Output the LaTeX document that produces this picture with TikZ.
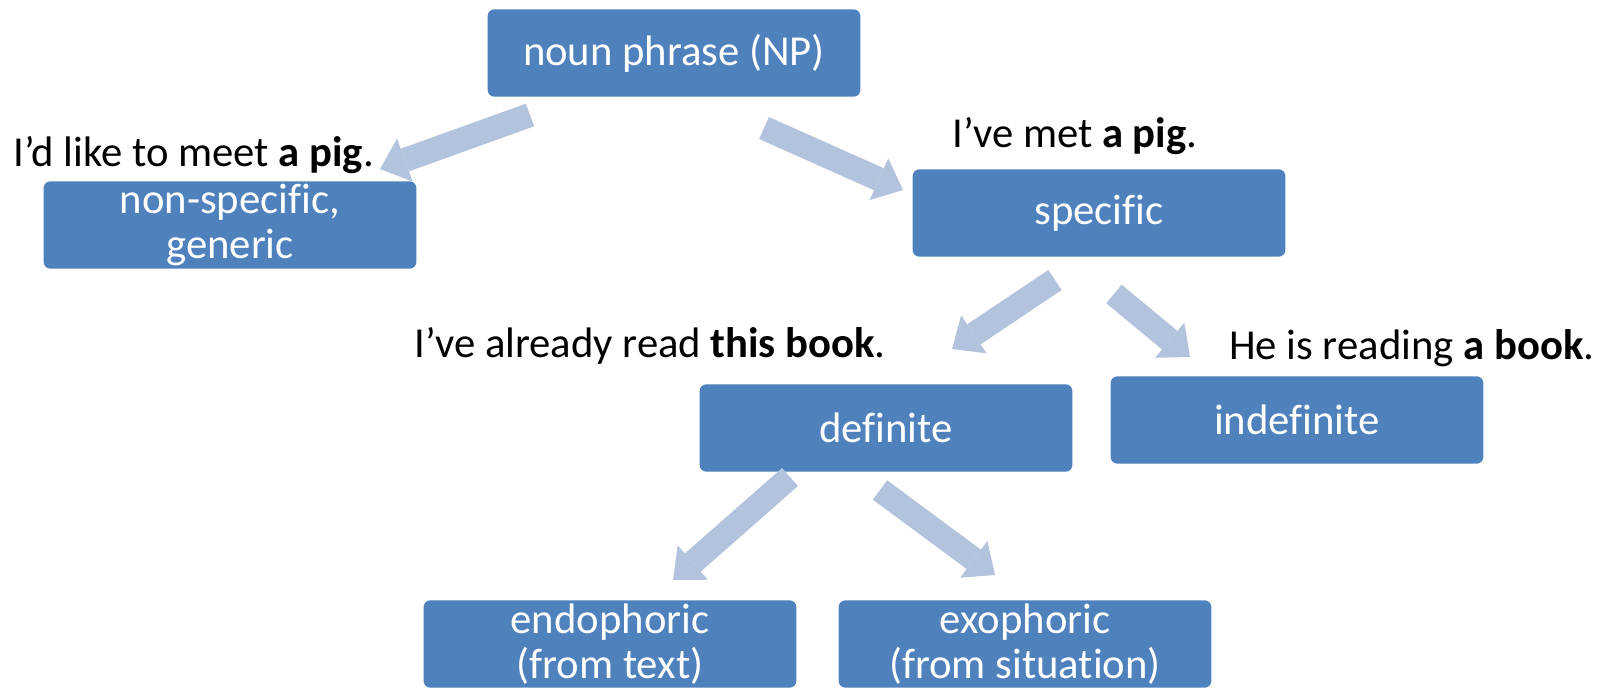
\documentclass[tikz,border=0pt]{standalone}
\usepackage{fontspec}
\setmainfont{Carlito}[Ligatures=NoCommon]
\usetikzlibrary{arrows.meta}

\definecolor{boxblue}{HTML}{4F81BD}
\definecolor{arrowblue}{HTML}{B3C2DD}

\begin{document}
\begin{tikzpicture}[x=0.02cm, y=-0.02cm,
    box/.style={fill=boxblue, rounded corners=4pt, text=white, align=center,
      minimum width=7.46cm, minimum height=1.75cm, inner sep=0pt,
      font=\fontsize{24.3}{26}\selectfont},
    example/.style={anchor=base west, inner sep=0pt, font=\fontsize{24.3}{26}\selectfont},
    pointer/.style={draw=arrowblue, line width=13.7pt,
      -{Triangle[width=26pt, length=15pt, line width=0pt]}}]
  \useasboundingbox (0,0) rectangle (1609,688);

  \node[box] (np)      at (674,53)    {noun phrase (NP)};
  \node[box] (nonspec) at (230,225)   {non-specific,\\generic};
  \node[box] (spec)    at (1099,213)  {specific};
  \node[box] (def)     at (886,428)   {definite};
  \node[box] (indef)   at (1297,420)  {indefinite};
  \node[box] (endo)    at (610,644)   {endophoric\\(from text)};
  \node[box] (exo)     at (1025,644)  {exophoric\\(from situation)};

  \node[example] (ex-nonspec) at (13,167)   {I’d like to meet \textbf{a pig}.};
  \node[example] (ex-spec)    at (952,148)  {I’ve met \textbf{a pig}.};
  \node[example] (ex-def)     at (414,358)  {I’ve already read \textbf{this book}.};
  \node[example] (ex-indef)   at (1229,360) {He is reading \textbf{a book}.};

  % block arrows between the levels
  \coordinate (np-l)    at (530,115);  \coordinate (nonspec-t) at (380,169);
  \coordinate (np-r)    at (764,128);  \coordinate (spec-t)    at (903,190);
  \coordinate (spec-l)  at (1055,280); \coordinate (def-t)     at (952,349);
  \coordinate (spec-r)  at (1114,294); \coordinate (indef-t)   at (1190,357);
  \coordinate (def-l)   at (790,477);  \coordinate (endo-t)    at (673,580);
  \coordinate (def-r)   at (880,490);  \coordinate (exo-t)     at (995,575);

  \draw[pointer] (np-l) -- (nonspec-t);
  \draw[pointer] (np-r) -- (spec-t);
  \draw[pointer] (spec-l) -- (def-t);
  \draw[pointer] (spec-r) -- (indef-t);
  \draw[pointer] (def-l) -- (endo-t);
  \draw[pointer] (def-r) -- (exo-t);
\end{tikzpicture}
\end{document}
